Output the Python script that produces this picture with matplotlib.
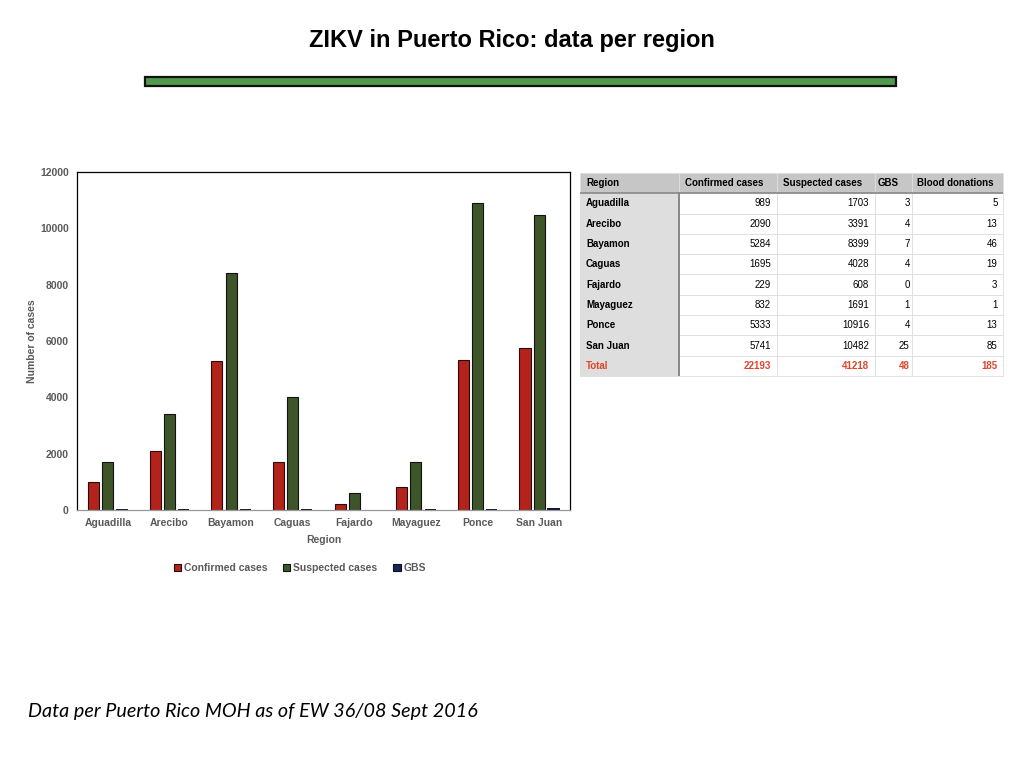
import numpy as np
import matplotlib
matplotlib.use("Agg")
import matplotlib.pyplot as plt
from matplotlib.patches import Rectangle

plt.rcParams["font.family"] = ["Liberation Sans", "DejaVu Sans"]

REGIONS = ["Aguadilla", "Arecibo", "Bayamon", "Caguas", "Fajardo",
           "Mayaguez", "Ponce", "San Juan"]
CONFIRMED = [989, 2090, 5284, 1695, 229, 832, 5333, 5741]
SUSPECTED = [1703, 3391, 8399, 4028, 608, 1691, 10916, 10482]
GBS = [3, 4, 7, 4, 0, 1, 4, 25]
BLOOD = [5, 13, 46, 19, 3, 1, 13, 85]
TABLE_HEADER = ["Region", "Confirmed cases", "Suspected cases", "GBS", "Blood donations"]

RED = "#b3231b"
GREEN = "#3e5529"
NAVY = "#1b2550"
TICK_GRAY = "#5a5a5a"

fig = plt.figure(figsize=(10.24, 7.68), dpi=100)
fig.patch.set_facecolor("white")

# title + green rule
fig.text(0.5, 0.947, "ZIKV in Puerto Rico: data per region", ha="center", va="center",
         fontsize=17, fontweight="bold", color="black")
fig.patches.append(Rectangle((145 / 1024, 1 - 86 / 768), 751 / 1024, 9 / 768,
                             transform=fig.transFigure, facecolor="#519a4d",
                             edgecolor="#111111", linewidth=1.6))

# bar chart
ax = fig.add_axes([77 / 1024, 1 - 510 / 768, 493 / 1024, 338 / 768])
x = np.arange(len(REGIONS))
w = 0.18
off = 0.23
ax.bar(x - off, CONFIRMED, w, color=RED, edgecolor="#2a0a08", linewidth=0.8, label="Confirmed cases")
ax.bar(x, SUSPECTED, w, color=GREEN, edgecolor="#111111", linewidth=0.8, label="Suspected cases")
gbs_bars = ax.bar(x + off, GBS, w, color=NAVY, edgecolor="#0a0f25", linewidth=1.4, label="GBS")
for b, g in zip(gbs_bars, GBS):
    if g == 0:
        b.set_edgecolor("none")
ax.set_xlim(-0.5, len(REGIONS) - 0.5)
ax.set_ylim(0, 12000)
ax.set_yticks(range(0, 12001, 2000))
ax.set_xticks(x)
ax.set_xticklabels(REGIONS)
ax.tick_params(axis="both", length=0, labelsize=7.5, labelcolor=TICK_GRAY, pad=6)
for lab in ax.get_xticklabels() + ax.get_yticklabels():
    lab.set_fontweight("bold")
for side in ["top", "right", "left"]:
    ax.spines[side].set_color("black")
    ax.spines[side].set_linewidth(0.9)
ax.spines["bottom"].set_color("#999999")
ax.spines["bottom"].set_linewidth(0.9)
ax.set_xlabel("Region", fontsize=7.5, fontweight="bold", color=TICK_GRAY, labelpad=5)
ax.set_ylabel("Number of cases", fontsize=7.5, fontweight="bold", color=TICK_GRAY, labelpad=2)
leg = ax.legend(loc="upper center", bbox_to_anchor=(0.452, -0.13), ncol=3, frameon=False,
                fontsize=7.5, handlelength=0.7, handleheight=0.7, handletextpad=0.3,
                columnspacing=1.5)
for h in leg.legend_handles:
    h.set_linewidth(0.8)
for t in leg.get_texts():
    t.set_color(TICK_GRAY)
    t.set_fontweight("bold")

# table
tax = fig.add_axes([580 / 1024, 1 - 376 / 768, 423 / 1024, 203 / 768])
tax.axis("off")
rows = []
for r, c, s, g, b in zip(REGIONS, CONFIRMED, SUSPECTED, GBS, BLOOD):
    rows.append([r, str(c), str(s), str(g), str(b)])
rows.append(["Total", str(sum(CONFIRMED)), str(sum(SUSPECTED)), str(sum(GBS)), str(sum(BLOOD))])
col_w = np.array([99, 98, 98, 37, 91]) / 423
tbl = tax.table(cellText=rows, colLabels=TABLE_HEADER, colWidths=col_w,
                bbox=[0, 0, 1, 1], cellLoc="right")
tbl.auto_set_font_size(False)
nrow = len(rows)
for (i, j), cell in tbl.get_celld().items():
    cell.set_edgecolor("#dddddd")
    cell.set_linewidth(0.6)
    txt = cell.get_text()
    txt.set_fontsize(7)
    cell.PAD = 0.06
    if i == 0:
        cell.set_facecolor("#c6c6c6")
        txt.set_fontweight("bold")
        txt.set_ha("left")
    elif j == 0:
        cell.set_facecolor("#dedede")
        txt.set_fontweight("bold")
        txt.set_ha("left")
    else:
        cell.set_facecolor("white")
    if i == nrow:
        txt.set_color("#e0452c")
        txt.set_fontweight("bold")
# darker separators
tax.plot([99 / 423, 99 / 423], [0, 0.9], color="#888888", lw=1.4, transform=tax.transAxes)
tax.plot([0, 1], [0.9, 0.9], color="#888888", lw=1.2, transform=tax.transAxes)

fig.text(28 / 1024, 1 - 712 / 768, "Data per Puerto Rico MOH as of EW 36/08 Sept 2016",
         ha="left", va="center", fontsize=14.2, style="italic", family=["Lato", "DejaVu Sans"])

fig.savefig("out.png", dpi=100, facecolor="white")
